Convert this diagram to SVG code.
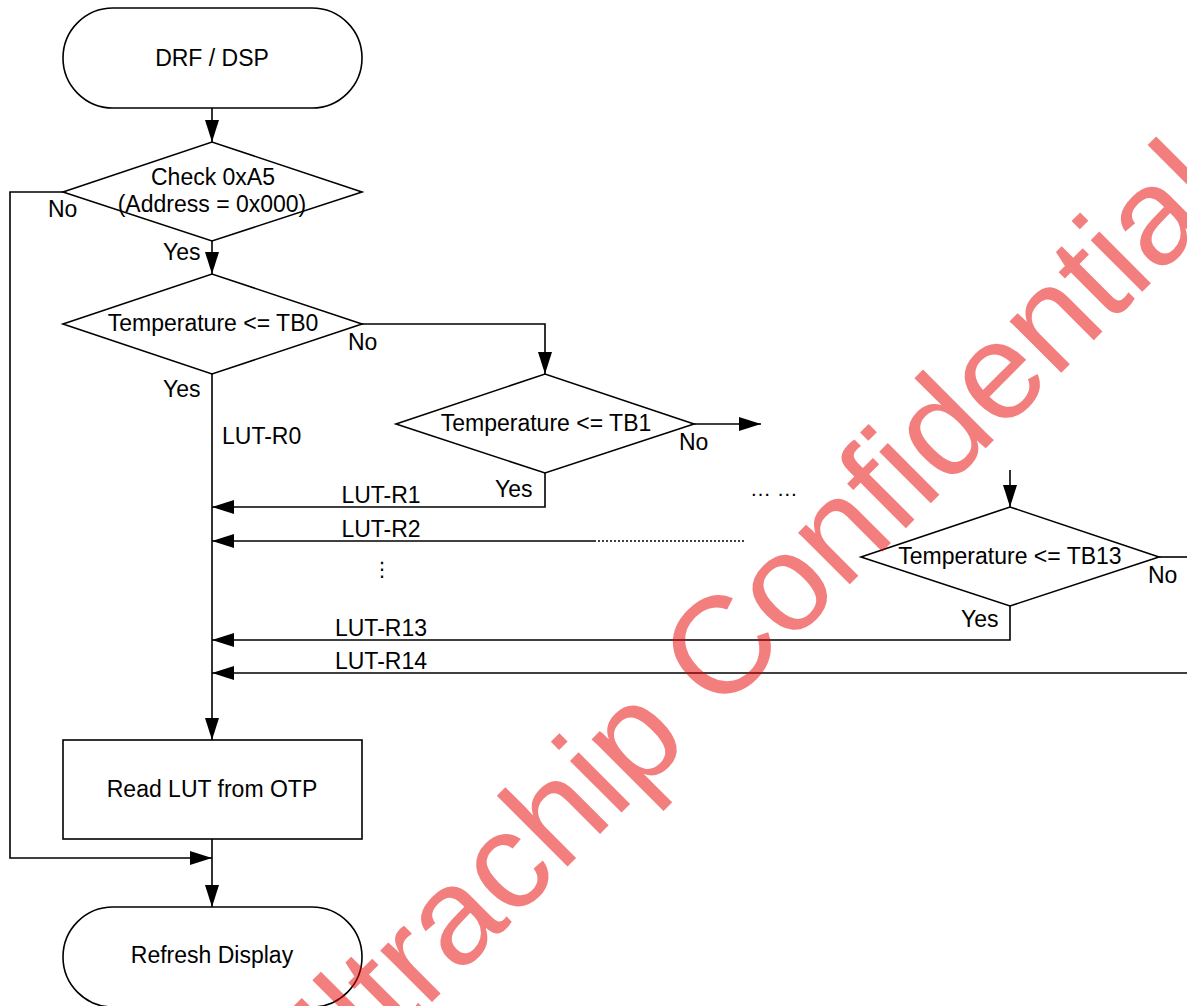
<svg xmlns="http://www.w3.org/2000/svg" width="1187" height="1006" viewBox="0 0 1187 1006">
<style>
.s{fill:#fff;stroke:#000;stroke-width:1.6}
.c{fill:none;stroke:#000;stroke-width:1.6}
.d{fill:none;stroke:#000;stroke-width:1.6;stroke-dasharray:2 2}
text{font-family:"Liberation Sans",Arial,sans-serif;font-size:23px;fill:#000}
.m{text-anchor:middle}
.wm{font-size:138px;fill:#e80000;opacity:0.5}
</style>
<defs>
<marker id="arr" viewBox="0 0 22 14" refX="22" refY="7" markerWidth="22" markerHeight="14" orient="auto" markerUnits="userSpaceOnUse">
<path d="M0,0 L22,7 L0,14 z" fill="#000"/>
</marker>
</defs>
<rect width="1187" height="1006" fill="#fff"/>
<g id="connectors">
<path class="c" d="M212,108 V142" marker-end="url(#arr)"/>
<path class="c" d="M63,192 H10 V858 H212" marker-end="url(#arr)"/>
<path class="c" d="M212,241 V274" marker-end="url(#arr)"/>
<path class="c" d="M362,324 H545 V374" marker-end="url(#arr)"/>
<path class="c" d="M212,374 V740" marker-end="url(#arr)"/>
<path class="c" d="M694,424 H761" marker-end="url(#arr)"/>
<path class="c" d="M545,473 V507 H212" marker-end="url(#arr)"/>
<path class="c" d="M594,541 H212" marker-end="url(#arr)"/>
<path class="d" d="M594,541 H746"/>
<path class="c" d="M1010,470 V507" marker-end="url(#arr)"/>
<path class="c" d="M1010,606 V640 H212" marker-end="url(#arr)"/>
<path class="c" d="M1159,557 H1187"/>
<path class="c" d="M1187,673 H212" marker-end="url(#arr)"/>
<path class="c" d="M212,839 V907" marker-end="url(#arr)"/>
<text x="48" y="217">No</text>
<text x="163" y="260">Yes</text>
<text x="348" y="350">No</text>
<text x="163" y="397">Yes</text>
<text x="222" y="444">LUT-R0</text>
<text x="679" y="450">No</text>
<text x="495" y="497">Yes</text>
<text x="750" y="496" style="font-size:21px">… …</text>
<text class="m" x="381" y="503">LUT-R1</text>
<text class="m" x="381" y="537">LUT-R2</text>
<text class="m" x="382" y="576" style="font-family:'DejaVu Sans',sans-serif;font-size:20px">⋮</text>
<text class="m" x="381" y="636">LUT-R13</text>
<text class="m" x="381" y="669">LUT-R14</text>
<text x="1148" y="583">No</text>
<text x="961" y="627">Yes</text>
</g>
<g id="start">
<rect class="s" x="63" y="8" width="299" height="100" rx="50"/>
<text class="m" x="212" y="66">DRF / DSP</text>
</g>
<g id="check">
<polygon class="s" points="63,192 212,142 362,192 212,241"/>
<text class="m" x="213" y="185">Check 0xA5</text>
<text class="m" x="212" y="212">(Address = 0x000)</text>
</g>
<g id="tb0">
<polygon class="s" points="63,324 212,274 362,324 212,374"/>
<text class="m" x="213" y="331">Temperature &lt;= TB0</text>
</g>
<g id="tb1">
<polygon class="s" points="396,424 545,374 694,424 545,473"/>
<text class="m" x="546" y="431">Temperature &lt;= TB1</text>
</g>
<g id="tb13">
<polygon class="s" points="861,557 1010,507 1159,557 1010,606"/>
<text class="m" x="1010" y="564">Temperature &lt;= TB13</text>
</g>
<g id="read">
<rect class="s" x="63" y="740" width="299" height="99"/>
<text class="m" x="212" y="797">Read LUT from OTP</text>
</g>
<g id="refresh">
<rect class="s" x="63" y="907" width="299" height="100" rx="50"/>
<text class="m" x="212" y="963">Refresh Display</text>
</g>
<g id="watermark">
<text class="wm" transform="translate(306,1128) rotate(-45)">Ultrachip Confidential</text>
</g>
</svg>
